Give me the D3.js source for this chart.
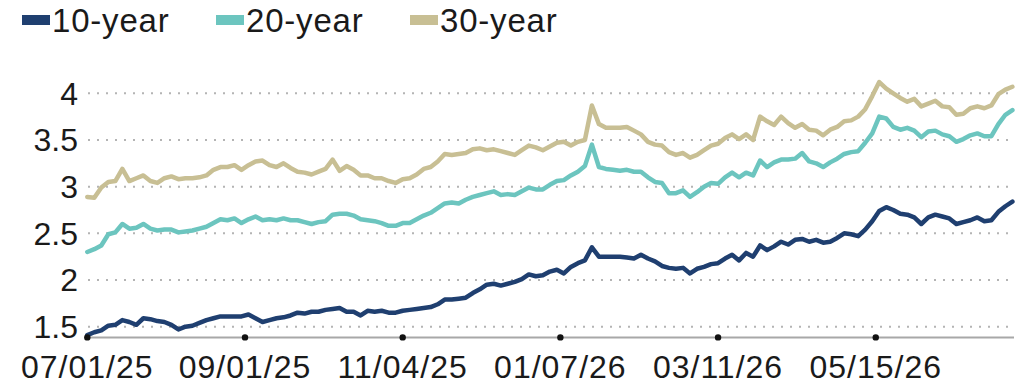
<!DOCTYPE html>
<html>
<head>
<meta charset="utf-8">
<script src="https://cdn.jsdelivr.net/npm/d3@7"></script>
<style>
  html, body { margin: 0; padding: 0; background: #ffffff; }
  svg { display: block; }
  text { font-family: "Liberation Sans", Arial, sans-serif; fill: #1a1a1a; }
</style>
</head>
<body>
<svg id="chart" width="1036" height="386"></svg>
<script>
// ---- data (business-day index, sampled every 2 business days) ----
const seriesNames = ["10-year", "20-year", "30-year"];
const seriesColors = ["#1f3f70", "#6cc5bf", "#c8bf94"];
const dayStep = 2;
const y10 = [1.41,1.44,1.46,1.51,1.52,1.57,1.55,1.52,1.59,1.58,
             1.56,1.55,1.52,1.47,1.50,1.51,1.54,1.57,1.59,1.61,
             1.61,1.61,1.61,1.63,1.59,1.55,1.57,1.59,1.60,1.62,
             1.65,1.64,1.66,1.66,1.68,1.69,1.70,1.66,1.66,1.62,
             1.67,1.66,1.67,1.65,1.65,1.67,1.68,1.69,1.70,1.71,
             1.74,1.79,1.79,1.80,1.81,1.86,1.90,1.95,1.96,1.94,
             1.96,1.98,2.01,2.06,2.04,2.05,2.09,2.11,2.07,2.14,
             2.18,2.21,2.35,2.25,2.25,2.25,2.25,2.24,2.23,2.27,
             2.23,2.20,2.15,2.13,2.12,2.13,2.07,2.12,2.14,2.17,
             2.18,2.23,2.27,2.21,2.29,2.25,2.37,2.32,2.36,2.41,
             2.38,2.43,2.44,2.41,2.43,2.40,2.41,2.45,2.50,2.49,
             2.47,2.54,2.63,2.74,2.78,2.75,2.71,2.70,2.67,2.60,
             2.67,2.70,2.68,2.66,2.60,2.62,2.64,2.67,2.63,2.64,
             2.73,2.79,2.84];
const y20 = [2.30,2.33,2.37,2.49,2.51,2.60,2.55,2.56,2.60,2.55,
             2.53,2.54,2.54,2.51,2.52,2.53,2.55,2.57,2.61,2.65,
             2.64,2.66,2.61,2.65,2.68,2.64,2.65,2.64,2.66,2.64,
             2.64,2.62,2.60,2.62,2.63,2.70,2.71,2.71,2.69,2.65,
             2.64,2.63,2.61,2.58,2.58,2.61,2.61,2.65,2.69,2.72,
             2.77,2.82,2.83,2.82,2.86,2.89,2.91,2.93,2.95,2.91,
             2.92,2.91,2.95,2.99,2.97,2.97,3.02,3.06,3.07,3.12,
             3.16,3.22,3.45,3.21,3.19,3.18,3.17,3.18,3.16,3.16,
             3.10,3.05,3.04,2.93,2.93,2.96,2.89,2.94,3.00,3.04,
             3.03,3.10,3.15,3.10,3.15,3.12,3.28,3.21,3.26,3.29,
             3.29,3.30,3.36,3.27,3.25,3.21,3.26,3.30,3.35,3.37,
             3.38,3.47,3.57,3.75,3.73,3.64,3.61,3.63,3.60,3.53,
             3.59,3.60,3.56,3.54,3.48,3.51,3.55,3.57,3.54,3.54,
             3.67,3.77,3.82];
const y30 = [2.89,2.88,2.99,3.05,3.06,3.19,3.06,3.09,3.12,3.06,
             3.04,3.09,3.11,3.08,3.09,3.09,3.10,3.12,3.18,3.21,
             3.21,3.23,3.18,3.23,3.27,3.28,3.23,3.21,3.25,3.20,
             3.16,3.15,3.13,3.16,3.19,3.29,3.17,3.22,3.18,3.12,
             3.12,3.09,3.09,3.06,3.04,3.08,3.09,3.13,3.19,3.21,
             3.27,3.35,3.34,3.35,3.36,3.40,3.41,3.39,3.40,3.38,
             3.36,3.34,3.39,3.44,3.42,3.39,3.43,3.47,3.48,3.44,
             3.48,3.50,3.87,3.67,3.63,3.63,3.63,3.64,3.60,3.56,
             3.48,3.45,3.44,3.37,3.34,3.36,3.31,3.34,3.39,3.44,
             3.46,3.52,3.56,3.51,3.56,3.50,3.75,3.70,3.66,3.75,
             3.68,3.63,3.67,3.61,3.60,3.55,3.61,3.64,3.70,3.71,
             3.75,3.83,3.97,4.12,4.05,4.00,3.95,3.91,3.94,3.86,
             3.89,3.92,3.86,3.85,3.77,3.78,3.84,3.86,3.84,3.87,
             3.99,4.04,4.07];
const xTickLabels = ["07/01/25", "09/01/25", "11/04/25", "01/07/26", "03/11/26", "05/15/26"];
const xTickDays = [0, 45, 90, 135, 180, 225];
const yTicks = [1.5, 2, 2.5, 3, 3.5, 4];
const yTickLabels = ["1.5", "2", "2.5", "3", "3.5", "4"];

// ---- chart ----
const svg = d3.select("#chart");
const lastDay = (y10.length - 1) * dayStep;
const x = d3.scaleLinear().domain([0, lastDay]).range([87.3, 1012.4]);
const y = d3.scaleLinear().domain([1.385, 4]).range([337.4, 93.3]);
const axisEnd = 1014;

// gridlines
svg.append("g").selectAll("line").data(yTicks).join("line")
  .attr("x1", 88).attr("x2", axisEnd)
  .attr("y1", d => y(d)).attr("y2", d => y(d))
  .attr("stroke", "#b4b4b4").attr("stroke-width", 2)
  .attr("stroke-dasharray", "2 7");

// y tick labels
svg.append("g").selectAll("text").data(yTicks).join("text")
  .attr("x", 78).attr("y", d => y(d) + 11.5)
  .attr("text-anchor", "end")
  .style("font-size", "32px")
  .text((d, i) => yTickLabels[i]);

// x axis line
svg.append("line")
  .attr("x1", x(0)).attr("x2", axisEnd)
  .attr("y1", y(1.385)).attr("y2", y(1.385))
  .attr("stroke", "#a8a8a8").attr("stroke-width", 2);

// series lines
const seriesData = [y10, y20, y30];
const line = d3.line()
  .x((d, i) => x(i * dayStep))
  .y(d => y(d));
svg.append("g").selectAll("path").data(seriesData).join("path")
  .attr("d", d => line(d))
  .attr("fill", "none")
  .attr("stroke", (d, i) => seriesColors[i])
  .attr("stroke-width", 4.5)
  .attr("stroke-linejoin", "round")
  .attr("stroke-linecap", "round");

// x tick dots and labels
svg.append("g").selectAll("circle").data(xTickDays).join("circle")
  .attr("cx", d => x(d)).attr("cy", y(1.385))
  .attr("r", 3.2).attr("fill", "#111");
svg.append("g").selectAll("text").data(xTickDays).join("text")
  .attr("x", d => x(d)).attr("y", 378)
  .attr("text-anchor", "middle")
  .style("font-size", "32px")
  .style("letter-spacing", "1px")
  .text((d, i) => xTickLabels[i]);

// legend
const legendX = [22, 216, 410];
const lg = svg.append("g").selectAll("g").data(seriesNames).join("g")
  .attr("transform", (d, i) => `translate(${legendX[i]},0)`);
lg.append("rect").attr("x", 0).attr("y", 15).attr("width", 28).attr("height", 10)
  .attr("fill", (d, i) => seriesColors[i]);
lg.append("text").attr("x", 30).attr("y", 31.5)
  .style("font-size", "33px")
  .style("letter-spacing", "0.8px")
  .text(d => d);
</script>
</body>
</html>
